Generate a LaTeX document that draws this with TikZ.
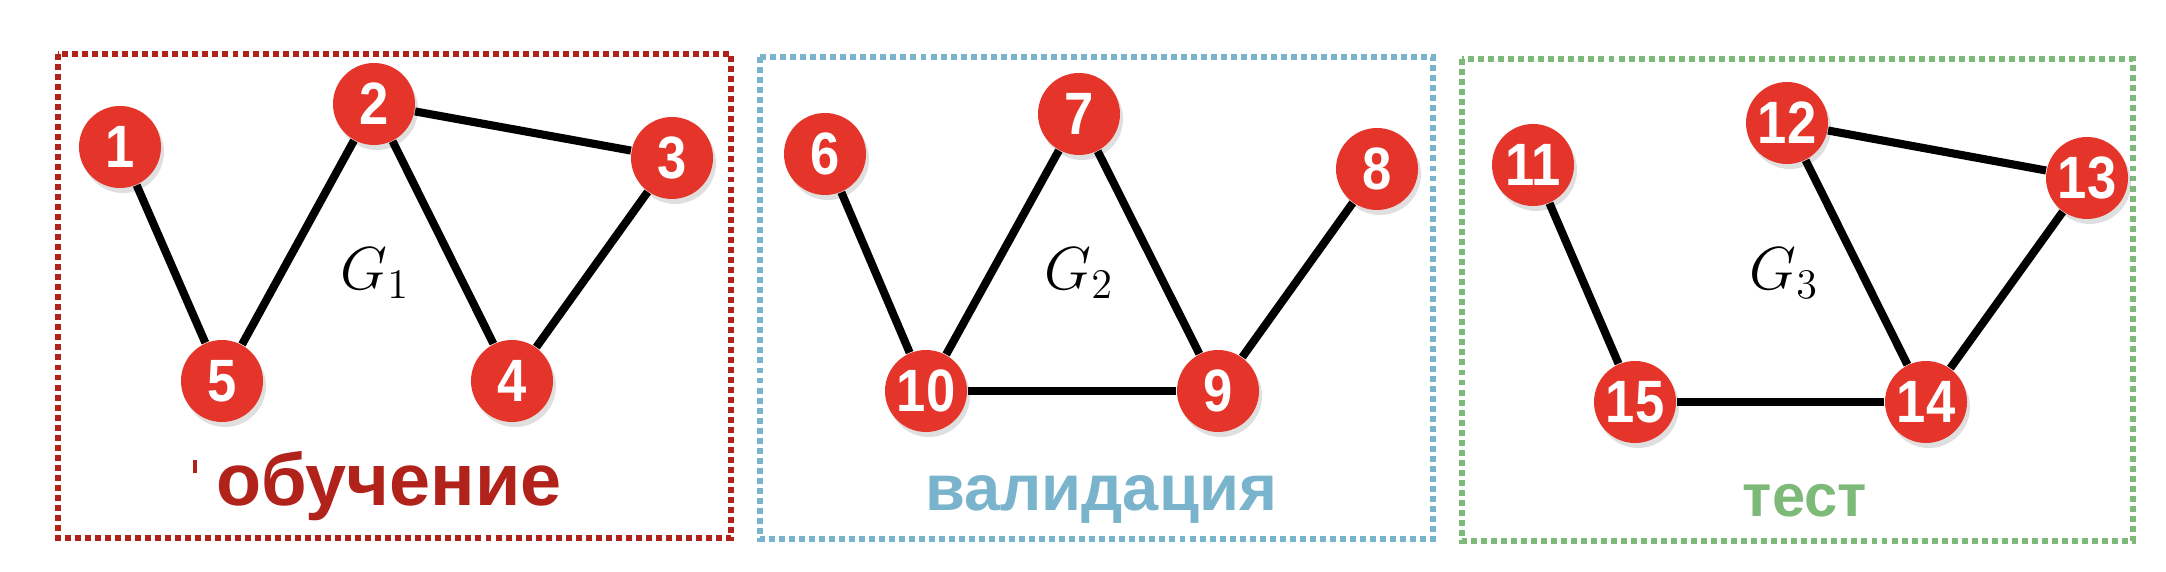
\documentclass[tikz,border=0pt]{standalone}
\usepackage{fontspec}
\setmainfont{Liberation Sans}
\newfontfamily\numeros[FakeStretch=0.88]{Liberation Sans}
\usetikzlibrary{shadows}
\definecolor{vermelho}{RGB}{229,53,42}
\definecolor{treino}{RGB}{176,34,26}
\definecolor{valid}{RGB}{122,180,204}
\definecolor{teste}{RGB}{125,185,120}
\begin{document}
\begin{tikzpicture}[
		vertice/.style={circle, fill=vermelho, minimum size=0.82cm, inner sep=0pt, text=white,
			font=\numeros\fontsize{17}{18}\selectfont\bfseries,
			drop shadow={opacity=0.25, shadow xshift=0.03cm, shadow yshift=-0.05cm}},
		aresta/.style={line width=2.3pt},
		caixa/.style={line width=1.6pt, dash pattern=on 1.7pt off 1.15pt},
		grafo/.style={font=\fontsize{17}{20}\selectfont},
		rotulo/.style={anchor=base, font=\bfseries}
	]
		\useasboundingbox (0,0) rectangle (21.66,5.72);
		\draw[caixa, treino] (0.58,5.18) rectangle (7.31,0.34);		% Conjunto de treino
		\draw[caixa, valid] (7.60,5.15) rectangle (14.33,0.33);		% Conjunto de validação
		\draw[caixa, teste] (14.62,5.13) rectangle (21.33,0.31);	% Conjunto de teste

		% Rótulos
		\node[rotulo, text=treino, font=\fontsize{21}{24}\selectfont\bfseries] (r1) at (3.89,0.66) {обучение};
		\fill[treino] (1.93,0.99) rectangle (1.97,1.12);
		\node[rotulo, text=valid, font=\fontsize{18.5}{22}\selectfont\bfseries] (r2) at (11.01,0.61) {валидация};
		\node[rotulo, text=teste, font=\fontsize{17}{20}\selectfont\bfseries] (r3) at (18.05,0.55) {тест};

		\node[grafo] (g1) at (3.75,2.99)  {$G_1$};
		\node[grafo] (g2) at (10.79,2.99) {$G_2$};
		\node[grafo] (g3) at (17.84,2.99) {$G_3$};

		% Vértices
		\node[vertice] (v1)  at (1.20,4.25)  {1};
		\node[vertice] (v2)  at (3.74,4.68)  {2};
		\node[vertice] (v3)  at (6.72,4.14)  {3};
		\node[vertice] (v4)  at (5.12,1.91)  {4};
		\node[vertice] (v5)  at (2.22,1.91)  {5};

		\node[vertice] (v6)  at (8.25,4.18)  {6};
		\node[vertice] (v7)  at (10.79,4.58) {7};
		\node[vertice] (v8)  at (13.77,4.03) {8};
		\node[vertice] (v9)  at (12.18,1.81) {9};
		\node[vertice] (v10) at (9.26,1.81)  {10};

		\node[vertice] (v11) at (15.33,4.07) {11};
		\node[vertice] (v12) at (17.87,4.49) {12};
		\node[vertice] (v13) at (20.87,3.94) {13};
		\node[vertice] (v14) at (19.26,1.70) {14};
		\node[vertice] (v15) at (16.35,1.70) {15};

		% Arestas
		\draw[aresta] (v1) -- (v5);
		\draw[aresta] (v5) -- (v2);
		\draw[aresta] (v2) -- (v4);
		\draw[aresta] (v2) -- (v3);
		\draw[aresta] (v3) -- (v4);

		\draw[aresta] (v6) -- (v10);
		\draw[aresta] (v10) -- (v7);
		\draw[aresta] (v7) -- (v9);
		\draw[aresta] (v10) -- (v9);
		\draw[aresta] (v9) -- (v8);

		\draw[aresta] (v11) -- (v15);
		\draw[aresta] (v15) -- (v14);
		\draw[aresta] (v12) -- (v14);
		\draw[aresta] (v12) -- (v13);
		\draw[aresta] (v13) -- (v14);
	\end{tikzpicture}
\end{document}
